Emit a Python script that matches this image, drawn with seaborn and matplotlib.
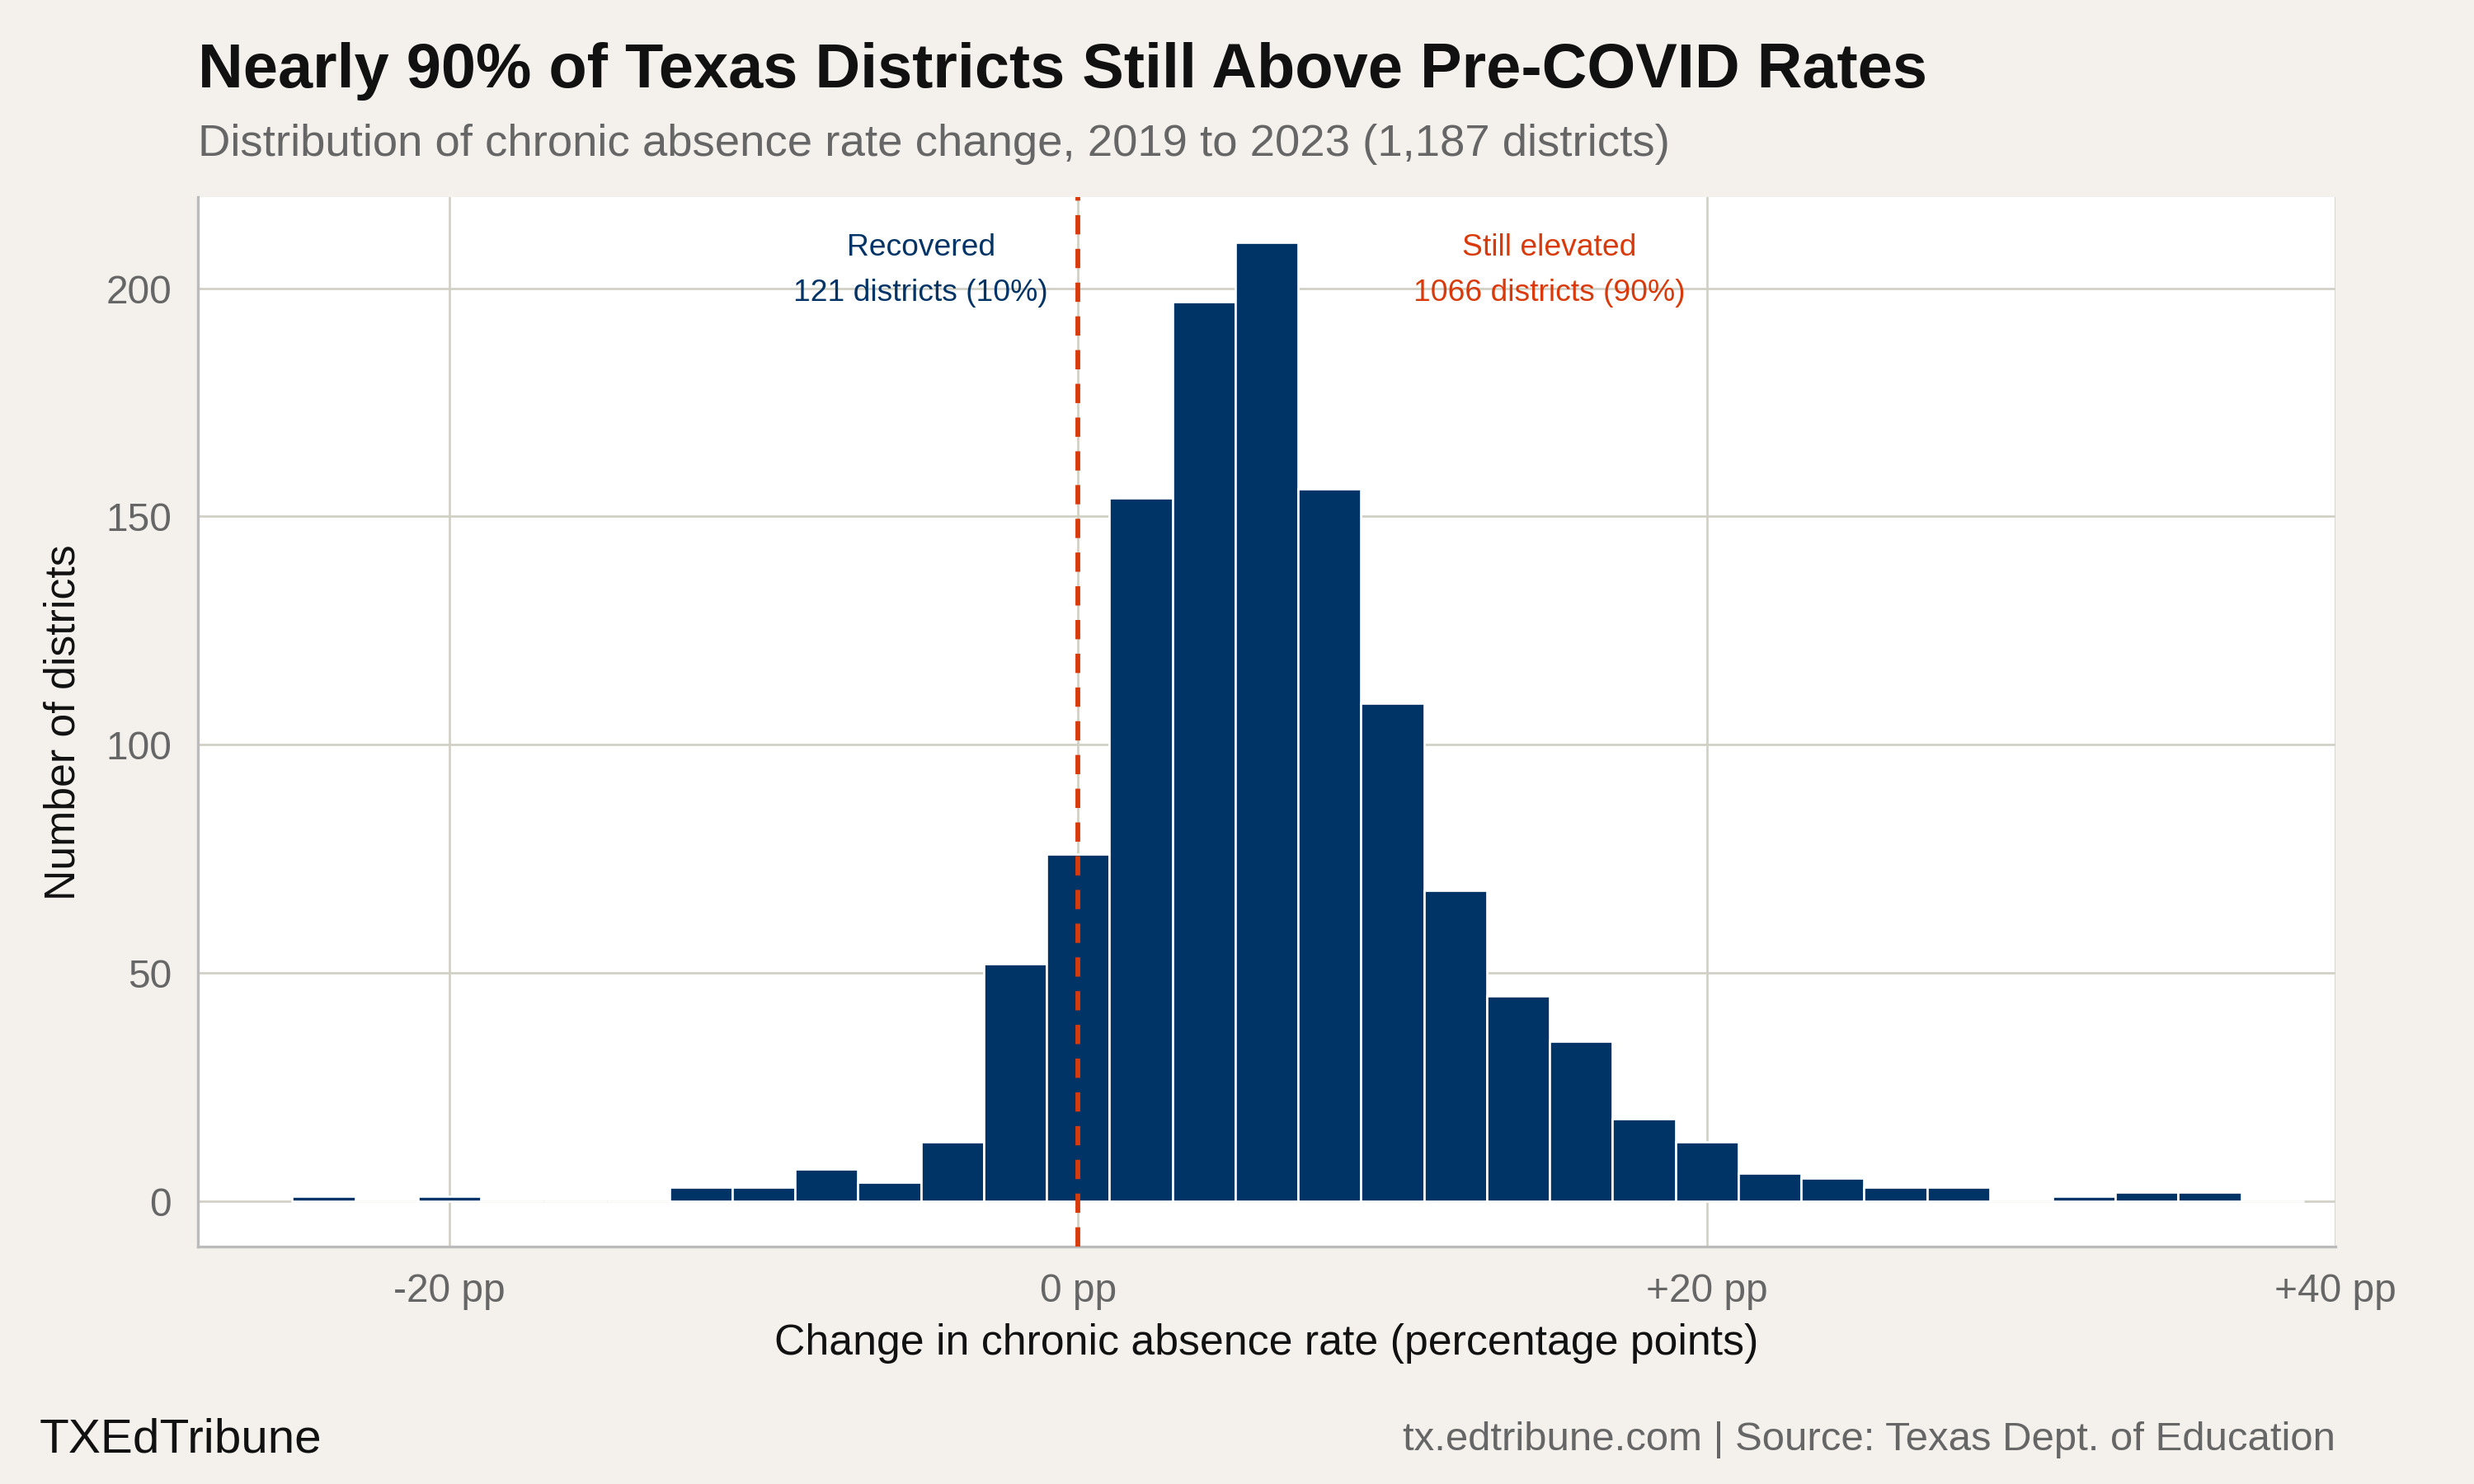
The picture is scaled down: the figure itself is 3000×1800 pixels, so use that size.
import numpy as np
import matplotlib
matplotlib.use("Agg")
import matplotlib.pyplot as plt
import seaborn as sns

# bin edges (2 pp wide, centred on even values) and counts
bin_centers = [-24, -22, -20, -18, -16, -14, -12, -10, -8, -6, -4, -2, 0, 2, 4, 6, 8, 10,
               12, 14, 16, 18, 20, 22, 24, 26, 28, 30, 32, 34, 36, 38]
counts = [1, 0, 1, 0, 0, 0, 3, 3, 7, 4, 13, 52, 76, 154, 197, 210, 156, 109,
          68, 45, 35, 18, 13, 6, 5, 3, 3, 0, 1, 2, 2, 0]
bin_edges = [c - 1 for c in bin_centers] + [bin_centers[-1] + 1]
x_ticks = [-20, 0, 20, 40]
x_tick_labels = ['-20 pp', '0 pp', '+20 pp', '+40 pp']

BG = '#f4f1ec'
NAVY = '#003366'
RED = '#d93a0b'

sns.set_theme(style='whitegrid')
plt.rcParams['font.family'] = ['Liberation Sans', 'DejaVu Sans']

fig = plt.figure(figsize=(15.68, 9.41), dpi=191.33, facecolor=BG)
ax = fig.add_axes([0.08, 0.16, 0.864, 0.707])
ax.set_facecolor('white')

sns.histplot(x=bin_centers, weights=counts, bins=bin_edges, color=NAVY,
             edgecolor='white', linewidth=1, alpha=1, ax=ax)

ax.axvline(0, color=RED, linestyle=(0, (4, 3)), linewidth=2.2, zorder=5)

ax.set_xlim(-28, 40)
ax.set_ylim(-10, 220)
ax.set_xticks(x_ticks)
ax.set_xticklabels(x_tick_labels)
ax.set_yticks([0, 50, 100, 150, 200])
ax.grid(True, color='#cfcfc4', linewidth=1)
ax.set_axisbelow(True)
for side in ['top', 'right']:
    ax.spines[side].set_visible(False)
for side in ['left', 'bottom']:
    ax.spines[side].set_color('#bbbbbb')
ax.tick_params(axis='both', labelsize=18, labelcolor='#666666', length=0, pad=12)
ax.set_xlabel('Change in chronic absence rate (percentage points)', fontsize=19.5,
              color='#111111', labelpad=6)
ax.set_ylabel('Number of districts', fontsize=19.5, color='#111111', labelpad=10)

ax.text(-5, 209, 'Recovered', color=NAVY, fontsize=14, ha='center', va='center')
ax.text(-5, 199, '121 districts (10%)', color=NAVY, fontsize=14, ha='center', va='center')
ax.text(15, 209, 'Still elevated', color=RED, fontsize=14, ha='center', va='center')
ax.text(15, 199, '1066 districts (90%)', color=RED, fontsize=14, ha='center', va='center')

fig.text(0.08, 0.952, 'Nearly 90% of Texas Districts Still Above Pre-COVID Rates',
         fontsize=28.5, fontweight='bold', color='#111111', va='center')
fig.text(0.08, 0.903, 'Distribution of chronic absence rate change, 2019 to 2023 (1,187 districts)',
         fontsize=20.5, color='#666666', va='center')
fig.text(0.016, 0.03, 'TXEdTribune', fontsize=22, color='#111111', va='center')
fig.text(0.944, 0.03, 'tx.edtribune.com | Source: Texas Dept. of Education',
         fontsize=18.5, color='#666666', va='center', ha='right')

fig.savefig('out.png', dpi=191.33, facecolor=BG)
